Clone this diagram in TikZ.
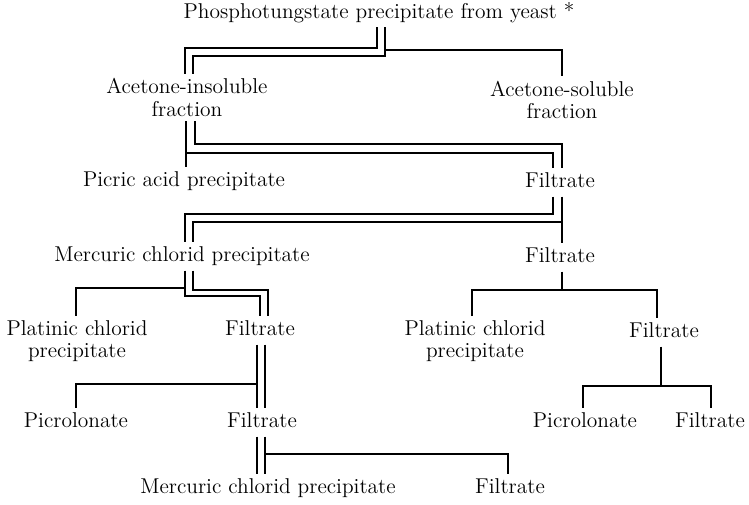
\documentclass[tikz,border=0pt]{standalone}
\usepackage{tikz}
\begin{document}
\begin{tikzpicture}[x=0.02cm,y=-0.02cm,line width=1pt,
  every node/.style={font=\fontsize{12.2}{12.6}\selectfont,align=center,inner sep=2.3pt},
  lbl/.style={text height=8.5pt,text depth=2.4pt}]
\useasboundingbox (0,0) rectangle (749,504);
\node[lbl] (top) at (379,13) {Phosphotungstate precipitate from yeast *};
\node (insol) at (187,97.5) {Acetone-insoluble\\fraction};
\node (sol) at (562,100) {Acetone-soluble\\fraction};
\node[lbl] (picric) at (184,181) {Picric acid precipitate};
\node[lbl] (filtA) at (560,182) {Filtrate};
\node[lbl] (merc) at (182,256) {Mercuric chlorid precipitate};
\node[lbl] (filtB) at (560,257) {Filtrate};
\node (platA) at (77,341.5) {Platinic chlorid\\precipitate};
\node[lbl] (filtC) at (260,330) {Filtrate};
\node (platB) at (475,341.5) {Platinic chlorid\\precipitate};
\node[lbl] (filtD) at (664,332) {Filtrate};
\node[lbl] (picroA) at (76,422) {Picrolonate};
\node[lbl] (filtE) at (262,422) {Filtrate};
\node[lbl] (picroB) at (585,422) {Picrolonate};
\node[lbl] (filtF) at (710,422) {Filtrate};
\node[lbl] (merc2) at (268,488) {Mercuric chlorid precipitate};
\node[lbl] (filtG) at (510,488) {Filtrate};
\draw (377,0 |- top.south) -- (377,48) -- (185,48) -- (185,0 |- insol.north);
\draw (385,0 |- top.south) -- (385,56) -- (193,56) -- (193,0 |- insol.north);
\draw (385,50) -- (562,50) -- (562,0 |- sol.north);
\draw (186,0 |- insol.south) -- (186,0 |- picric.north);
\draw (195,0 |- insol.south) -- (195,144) -- (562,144) -- (562,0 |- filtA.north);
\draw (186,153) -- (553,153) -- (553,0 |- filtA.north);
\draw (553,0 |- filtA.south) -- (553,214) -- (185,214) -- (185,0 |- merc.north);
\draw (562,0 |- filtA.south) -- (562,0 |- filtB.north);
\draw (562,222) -- (193,222) -- (193,0 |- merc.north);
\draw (185,0 |- merc.south) -- (185,296) -- (260,296) -- (260,0 |- filtC.north);
\draw (193,0 |- merc.south) -- (193,290) -- (268,290) -- (268,0 |- filtC.north);
\draw (185,288) -- (76,288) -- (76,0 |- platA.north);
\draw (562,0 |- filtB.south) -- (562,290);
\draw (472,0 |- platB.north) -- (472,290) -- (657,290) -- (657,0 |- filtD.north);
\draw (257,0 |- filtC.south) -- (257,0 |- filtE.north);
\draw (265,0 |- filtC.south) -- (265,0 |- filtE.north);
\draw (257,384) -- (76,384) -- (76,0 |- picroA.north);
\draw (661,0 |- filtD.south) -- (661,386);
\draw (583,0 |- picroB.north) -- (583,386) -- (711,386) -- (711,0 |- filtF.north);
\draw (257,0 |- filtE.south) -- (257,0 |- merc2.north);
\draw (265,0 |- filtE.south) -- (265,0 |- merc2.north);
\draw (265,454) -- (508,454) -- (508,0 |- filtG.north);
\end{tikzpicture}
\end{document}
